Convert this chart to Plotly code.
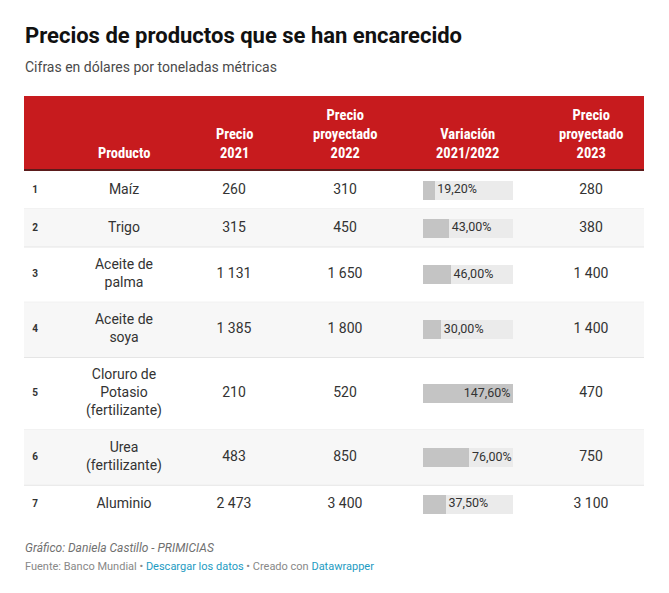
import plotly.graph_objects as go

# data
products = ["Maíz", "Trigo", "Aceite de<br>palma", "Aceite de<br>soya",
            "Cloruro de<br>Potasio<br>(fertilizante)", "Urea<br>(fertilizante)", "Aluminio"]
price_2021 = [260, 315, 1131, 1385, 210, 483, 2473]
price_2022 = [310, 450, 1650, 1800, 520, 850, 3400]
variation = [19.2, 43.0, 46.0, 30.0, 147.6, 76.0, 37.5]
price_2023 = [280, 380, 1400, 1400, 470, 750, 3100]
headers = ["Producto", "Precio<br>2021", "Precio<br>proyectado<br>2022",
           "Variación<br>2021/2022", "Precio<br>proyectado<br>2023"]

W, H = 669, 593
LEFT, RIGHT = 24, 644
HEAD_TOP, HEAD_BOT = 96, 169
BAR_X0, BAR_X1 = 423, 513
col_x = [124, 234, 345, 467, 591]

TXT = "#333333"
FONT = "Roboto"
COND = "Roboto Condensed, Liberation Sans Narrow, Roboto"


def num(v):
    return f"{v:,}".replace(",", " ")


def pct(v):
    return f"{v:.2f}".replace(".", ",") + "%"


# row geometry from number of text lines
nlines = [p.count("<br>") + 1 for p in products]
tops, mids = [], []
y = HEAD_BOT + 2
for n in nlines:
    h = 20.75 + 17.25 * n
    tops.append((y, y + h))
    mids.append(y + h / 2)
    y += h

fig = go.Figure()
shapes = []
shapes.append(dict(type="rect", xref="x", yref="y", x0=LEFT, x1=RIGHT, y0=HEAD_TOP, y1=HEAD_BOT,
                   fillcolor="#c71b1e", line_width=0, layer="below"))
shapes.append(dict(type="rect", xref="x", yref="y", x0=LEFT, x1=RIGHT, y0=HEAD_BOT, y1=HEAD_BOT + 2,
                   fillcolor="#5b1b1b", line_width=0, layer="below"))
for i, (y0, y1) in enumerate(tops):
    if i % 2 == 1:
        shapes.append(dict(type="rect", xref="x", yref="y", x0=LEFT, x1=RIGHT, y0=y0, y1=y1,
                           fillcolor="#f7f7f7", line_width=0, layer="below"))
    if i < len(tops) - 1:
        shapes.append(dict(type="line", xref="x", yref="y", x0=LEFT, x1=RIGHT, y0=y1, y1=y1,
                           line=dict(color="#e5e5e5", width=1), layer="below"))

# cell texts
fig.add_trace(go.Scatter(x=[35] * len(products), y=mids, mode="text",
                         text=[f"<b>{i + 1}</b>" for i in range(len(products))],
                         textfont=dict(family=FONT, size=10, color=TXT), hoverinfo="skip"))
for cx, vals in [(col_x[0], products), (col_x[1], [num(v) for v in price_2021]),
                 (col_x[2], [num(v) for v in price_2022]), (col_x[4], [num(v) for v in price_2023])]:
    fig.add_trace(go.Scatter(x=[cx] * len(vals), y=mids, mode="text", text=vals,
                             textfont=dict(family=FONT, size=14, color=TXT), hoverinfo="skip"))

# variation bars on their own axis
vmax = max(variation)
fig.add_trace(go.Bar(x=[vmax] * len(variation), y=mids, orientation="h", width=19,
                     marker=dict(color="#ebebeb", line_width=0), xaxis="x2", hoverinfo="skip"))
fig.add_trace(go.Bar(x=variation, y=mids, orientation="h", width=19,
                     marker=dict(color="#c4c4c4", line_width=0), xaxis="x2", hoverinfo="skip"))
inside = [v / vmax > 0.7 for v in variation]
fig.add_trace(go.Scatter(x=variation, y=mids, mode="text", xaxis="x2",
                         text=[pct(v) + "\u2009" if ins else "\u2009" + pct(v)
                               for v, ins in zip(variation, inside)],
                         textposition=["middle left" if ins else "middle right" for ins in inside],
                         textfont=dict(family=FONT, size=12.5, color=TXT), hoverinfo="skip"))

annotations = []
for cx, h in zip(col_x, headers):
    annotations.append(dict(x=cx, y=164, xref="x", yref="y", text=h, showarrow=False,
                            yanchor="bottom", align="center",
                            font=dict(family=COND, size=14.5, color="white", weight="bold")))
annotations.append(dict(x=23, y=35, xref="x", yref="y", text="Precios de productos que se han encarecido",
                        showarrow=False, xanchor="left", yanchor="middle",
                        font=dict(family=FONT, size=22, color="#111111", weight="bold")))
annotations.append(dict(x=23, y=67, xref="x", yref="y", text="Cifras en dólares por toneladas métricas",
                        showarrow=False, xanchor="left", yanchor="middle",
                        font=dict(family=FONT, size=14, color="#4a4a4a")))
annotations.append(dict(x=23, y=548, xref="x", yref="y", text="<i>Gráfico: Daniela Castillo - PRIMICIAS</i>",
                        showarrow=False, xanchor="left", yanchor="middle",
                        font=dict(family=FONT, size=12, color="#707070")))
annotations.append(dict(x=23, y=566, xref="x", yref="y",
                        text="Fuente: Banco Mundial • <span style='color:#1d9bc2'>Descargar los datos</span>"
                             " • Creado con <span style='color:#1d9bc2'>Datawrapper</span>",
                        showarrow=False, xanchor="left", yanchor="middle",
                        font=dict(family=FONT, size=11, color="#888888")))

fig.update_layout(
    width=W, height=H, margin=dict(l=0, r=0, t=0, b=0),
    paper_bgcolor="white", plot_bgcolor="rgba(0,0,0,0)", showlegend=False,
    barmode="overlay", bargap=0,
    xaxis=dict(range=[0, W], visible=False, fixedrange=True),
    xaxis2=dict(domain=[BAR_X0 / W, BAR_X1 / W], range=[0, vmax], visible=False,
                anchor="y", fixedrange=True),
    yaxis=dict(range=[H, 0], visible=False, fixedrange=True),
    shapes=shapes, annotations=annotations,
)
fig.write_html("out.html", config={"displayModeBar": False},
               post_script="document.body.style.margin='0';")
